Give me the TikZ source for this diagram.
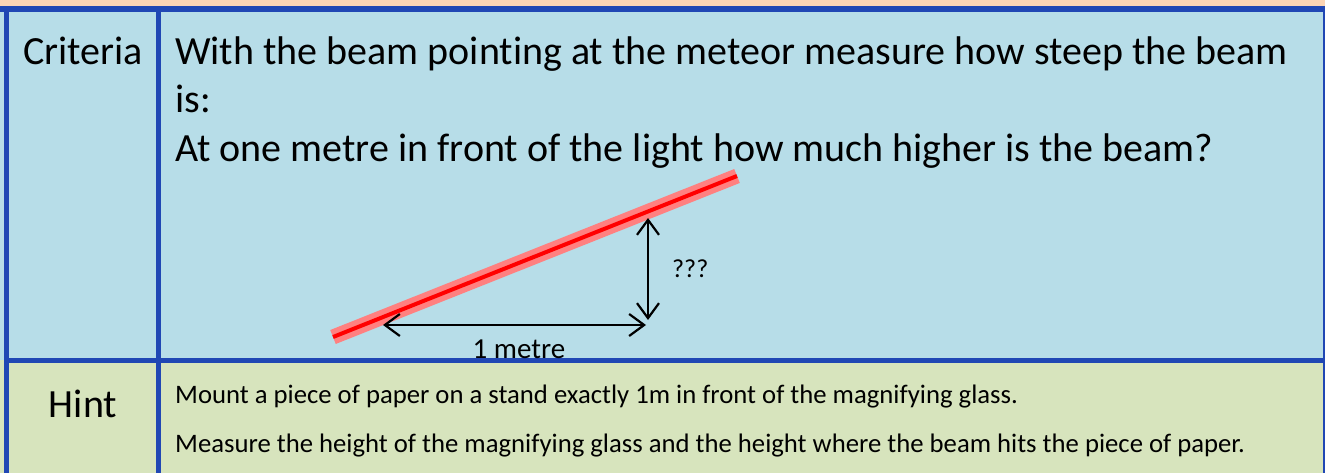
\documentclass[tikz,border=0pt]{standalone}
\usepackage{fontspec}
\setmainfont{Carlito}[Ligatures={NoCommon}]
\usetikzlibrary{arrows.meta}
\definecolor{frameblue}{RGB}{32,71,180}
\definecolor{critbg}{RGB}{183,221,232}
\definecolor{hintbg}{RGB}{215,228,189}
\definecolor{topbg}{RGB}{252,213,181}
\definecolor{beamcore}{RGB}{255,0,0}
\definecolor{beamhalo}{RGB}{255,128,128}
\tikzset{
  bigtext/.style={font=\fontsize{40}{46}\selectfont, anchor=base west, inner sep=0pt},
  headtext/.style={font=\fontsize{40}{46}\selectfont, anchor=base, inner sep=0pt},
  smalltext/.style={font=\fontsize{26.7}{30}\selectfont, anchor=base west, inner sep=0pt},
  labeltext/.style={font=\fontsize{29}{32}\selectfont, inner sep=0pt},
  qtext/.style={font=\fontsize{26}{30}\selectfont, inner sep=0pt},
  dimarrow/.style={line width=2.2pt, {Straight Barb[length=15pt,width=22pt]}-{Straight Barb[length=15pt,width=22pt]}},
  framefill/.style={fill=frameblue, draw=none}
}
\begin{document}
\begin{tikzpicture}[x=1pt,y=-1pt]
\useasboundingbox (0,0) rectangle (1325,473);
% backgrounds
\fill[topbg] (0,0) rectangle (1325,6.3);
\fill[critbg] (0,6.3) rectangle (1325,360);
\fill[hintbg] (0,360) rectangle (1325,473);
% frame lines
\fill[framefill] (0,6.3) rectangle (1325,11.7);
\fill[framefill] (4,6.3) rectangle (9.3,473);
\fill[framefill] (156,6.3) rectangle (161.3,473);
\fill[framefill] (1322.7,6.3) rectangle (1325,473);
\fill[framefill] (4,358) rectangle (1325,363.3);
% texts
\node[bigtext] (crit) at (23,65) {Criteria};
\node[bigtext] (l1) at (175,65) {With the beam pointing at the meteor measure how steep the beam};
\node[bigtext] (l2) at (175,113) {is:};
\node[bigtext] (l3) at (175,162) {At one metre in front of the light how much higher is the beam?};
\node[headtext] (hint) at (83,417) {Hint};
\node[smalltext] (h1) at (175,403) {Mount a piece of paper on a stand exactly 1m in front of the magnifying glass.};
\node[smalltext] (h2) at (175,452) {Measure the height of the magnifying glass and the height where the beam hits the piece of paper.};
% beam
\coordinate (b0) at (333,337);
\coordinate (b1) at (737,176);
\draw[beamhalo, line width=15pt] (b0) -- (b1);
\draw[beamcore, line width=4pt] (b0) -- (b1);
% dimension arrows
\coordinate (hl) at (383,325);
\coordinate (hr) at (646,325);
\coordinate (vt) at (648,218);
\coordinate (vb) at (648,320);
\draw[dimarrow] (hl) -- (hr);
\draw[dimarrow] (vt) -- (vb);
\node[labeltext, anchor=base] (m1) at (519,358) {1 metre};
\node[qtext, anchor=base west] (q) at (672,277) {???};
\end{tikzpicture}
\end{document}
